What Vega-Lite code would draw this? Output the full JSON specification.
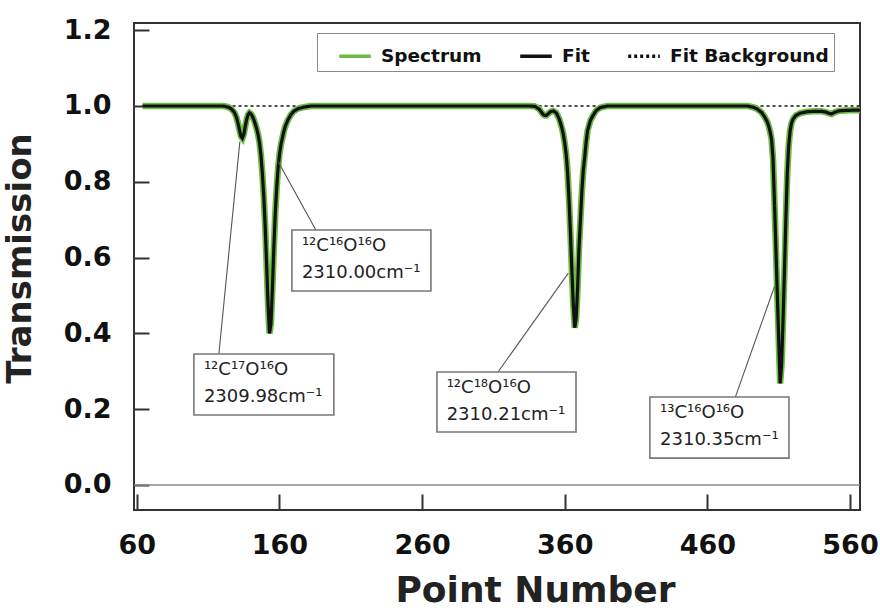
{
  "$schema": "https://vega.github.io/schema/vega-lite/v6.json",
  "width": 726,
  "height": 487,
  "autosize": {"type": "none"},
  "padding": {"left": 134, "top": 23, "right": 20, "bottom": 103},
  "background": "white",
  "config": {
    "view": {"stroke": "#333333", "strokeWidth": 2},
    "font": "DejaVu Sans",
    "axis": {
      "grid": false, "domain": false, "tickWidth": 2, "tickColor": "#333333",
      "labelFont": "DejaVu Sans", "labelFontWeight": "bold", "labelFontSize": 27, "labelColor": "#111111", "labelFlush": false,
      "titleFont": "DejaVu Sans", "titleFontWeight": "bold", "titleColor": "#222222"
    },
    "axisX": {"tickSize": -16, "labelPadding": 38, "titleFontSize": 36, "titlePadding": 15},
    "axisY": {"tickSize": -15, "labelPadding": 38, "titleFontSize": 34, "titlePadding": 26}
  },
  "datasets": {
    "curve": [
      {"x": 64, "y": 1.0}, {"x": 80, "y": 1.0}, {"x": 100, "y": 1.0}, {"x": 115, "y": 1.0}, {"x": 120, "y": 1.0},
      {"x": 122, "y": 0.999}, {"x": 124, "y": 0.997}, {"x": 126, "y": 0.993}, {"x": 128, "y": 0.985}, {"x": 129, "y": 0.978},
      {"x": 130, "y": 0.968}, {"x": 131, "y": 0.953}, {"x": 132, "y": 0.936}, {"x": 133, "y": 0.920}, {"x": 134, "y": 0.915},
      {"x": 135, "y": 0.925}, {"x": 136, "y": 0.946}, {"x": 137, "y": 0.965}, {"x": 138, "y": 0.977}, {"x": 139, "y": 0.982},
      {"x": 140, "y": 0.979}, {"x": 141, "y": 0.973}, {"x": 142, "y": 0.964}, {"x": 143, "y": 0.953}, {"x": 144, "y": 0.940},
      {"x": 145, "y": 0.925}, {"x": 146, "y": 0.903}, {"x": 147, "y": 0.870}, {"x": 148, "y": 0.822}, {"x": 149, "y": 0.760},
      {"x": 150, "y": 0.680}, {"x": 151, "y": 0.580}, {"x": 152, "y": 0.475}, {"x": 153, "y": 0.400}, {"x": 154, "y": 0.425},
      {"x": 155, "y": 0.515}, {"x": 156, "y": 0.622}, {"x": 157, "y": 0.713}, {"x": 158, "y": 0.782}, {"x": 159, "y": 0.835},
      {"x": 160, "y": 0.872}, {"x": 161, "y": 0.898}, {"x": 162, "y": 0.915}, {"x": 163, "y": 0.932}, {"x": 164, "y": 0.946},
      {"x": 166, "y": 0.964}, {"x": 168, "y": 0.977}, {"x": 170, "y": 0.986}, {"x": 173, "y": 0.993}, {"x": 177, "y": 0.997},
      {"x": 182, "y": 1.0}, {"x": 200, "y": 1.0}, {"x": 250, "y": 1.0}, {"x": 300, "y": 1.0}, {"x": 335, "y": 1.0},
      {"x": 339, "y": 0.999}, {"x": 342, "y": 0.992}, {"x": 344, "y": 0.982}, {"x": 345, "y": 0.977}, {"x": 346, "y": 0.975},
      {"x": 347, "y": 0.975}, {"x": 348, "y": 0.978}, {"x": 350, "y": 0.985}, {"x": 352, "y": 0.987}, {"x": 354, "y": 0.982},
      {"x": 356, "y": 0.967}, {"x": 357, "y": 0.955}, {"x": 358, "y": 0.942}, {"x": 359, "y": 0.925}, {"x": 360, "y": 0.902},
      {"x": 361, "y": 0.872}, {"x": 362, "y": 0.825}, {"x": 363, "y": 0.752}, {"x": 364, "y": 0.665}, {"x": 365, "y": 0.565},
      {"x": 366, "y": 0.475}, {"x": 367, "y": 0.415}, {"x": 368, "y": 0.440}, {"x": 369, "y": 0.520}, {"x": 370, "y": 0.625},
      {"x": 371, "y": 0.700}, {"x": 372, "y": 0.775}, {"x": 373, "y": 0.830}, {"x": 374, "y": 0.865}, {"x": 375, "y": 0.905},
      {"x": 376, "y": 0.935}, {"x": 378, "y": 0.962}, {"x": 380, "y": 0.976}, {"x": 382, "y": 0.988}, {"x": 385, "y": 0.996},
      {"x": 390, "y": 1.0}, {"x": 420, "y": 1.0}, {"x": 460, "y": 1.0}, {"x": 488, "y": 1.0},
      {"x": 492, "y": 0.997}, {"x": 495, "y": 0.992}, {"x": 498, "y": 0.983}, {"x": 500, "y": 0.972}, {"x": 502, "y": 0.958},
      {"x": 503, "y": 0.947}, {"x": 504, "y": 0.932}, {"x": 505, "y": 0.912}, {"x": 506, "y": 0.862}, {"x": 507, "y": 0.750},
      {"x": 508, "y": 0.630}, {"x": 509, "y": 0.505}, {"x": 510, "y": 0.385}, {"x": 511, "y": 0.268}, {"x": 512, "y": 0.315},
      {"x": 513, "y": 0.430}, {"x": 514, "y": 0.560}, {"x": 515, "y": 0.700}, {"x": 516, "y": 0.820}, {"x": 517, "y": 0.895},
      {"x": 518, "y": 0.935}, {"x": 519, "y": 0.955}, {"x": 520, "y": 0.965}, {"x": 522, "y": 0.975}, {"x": 525, "y": 0.981},
      {"x": 530, "y": 0.985}, {"x": 535, "y": 0.986}, {"x": 540, "y": 0.986}, {"x": 543, "y": 0.984}, {"x": 545, "y": 0.981},
      {"x": 547, "y": 0.979}, {"x": 549, "y": 0.983}, {"x": 552, "y": 0.987}, {"x": 556, "y": 0.988}, {"x": 562, "y": 0.989},
      {"x": 567, "y": 0.989}
    ],
    "background": [
      {"x": 64, "y": 1.0}, {"x": 567, "y": 1.0}
    ],
    "zero": [
      {"x": 58, "y": 0}, {"x": 567, "y": 0}
    ],
    "boxes": [
      {"x": 100.0, "x2": 198.1, "y": 0.3456, "y2": 0.1847},
      {"x": 168.7, "x2": 266.2, "y": 0.673, "y2": 0.512},
      {"x": 270.4, "x2": 367.9, "y": 0.298, "y2": 0.140},
      {"x": 419.7, "x2": 517.2, "y": 0.232, "y2": 0.071}
    ],
    "leaders": [
      {"x": 117.5, "y": 0.3456, "x2": 132.2, "y2": 0.906},
      {"x": 185.5, "y": 0.673, "x2": 159.1, "y2": 0.853},
      {"x": 313.2, "y": 0.298, "x2": 362.5, "y2": 0.559},
      {"x": 479.6, "y": 0.232, "x2": 507.0, "y2": 0.523}
    ],
    "labels": [
      {"x": 107.0, "y": 0.303, "label": "¹²C¹⁷O¹⁶O\n2309.98cm⁻¹"},
      {"x": 175.7, "y": 0.631, "label": "¹²C¹⁶O¹⁶O\n2310.00cm⁻¹"},
      {"x": 277.2, "y": 0.256, "label": "¹²C¹⁸O¹⁶O\n2310.21cm⁻¹"},
      {"x": 426.8, "y": 0.190, "label": "¹³C¹⁶O¹⁶O\n2310.35cm⁻¹"}
    ]
  },
  "layer": [
    {
      "data": {"name": "zero"},
      "mark": {"type": "line", "color": "#8c8c8c", "strokeWidth": 1.5},
      "encoding": {
        "x": {"field": "x", "type": "quantitative", "scale": {"domain": [58, 567], "nice": false, "zero": false},
              "axis": {"title": "Point Number", "values": [60, 160, 260, 360, 460, 560], "titleX": 401}},
        "y": {"field": "y", "type": "quantitative", "scale": {"domain": [-0.066, 1.219], "nice": false, "zero": false},
              "axis": {"title": "Transmission", "values": [0, 0.2, 0.4, 0.6, 0.8, 1.0, 1.2], "format": ".1f", "titleY": 235}}
      }
    },
    {
      "data": {"name": "background"},
      "mark": {"type": "line", "strokeWidth": 1.6},
      "encoding": {
        "x": {"field": "x", "type": "quantitative",
              "axis": {"title": "Point Number", "values": [60, 160, 260, 360, 460, 560], "titleX": 401}},
        "y": {"field": "y", "type": "quantitative",
              "axis": {"title": "Transmission", "values": [0, 0.2, 0.4, 0.6, 0.8, 1.0, 1.2], "format": ".1f", "titleY": 235}},
        "color": {"datum": "Fit Background", "type": "nominal"},
        "strokeDash": {"datum": "Fit Background", "type": "nominal"}
      }
    },
    {
      "data": {"name": "curve"},
      "mark": {"type": "line", "strokeWidth": 6.5},
      "encoding": {
        "x": {"field": "x", "type": "quantitative",
              "axis": {"title": "Point Number", "values": [60, 160, 260, 360, 460, 560], "titleX": 401}},
        "y": {"field": "y", "type": "quantitative",
              "axis": {"title": "Transmission", "values": [0, 0.2, 0.4, 0.6, 0.8, 1.0, 1.2], "format": ".1f", "titleY": 235}},
        "color": {
          "datum": "Spectrum", "type": "nominal",
          "scale": {"domain": ["Spectrum", "Fit", "Fit Background"], "range": ["#6dbb45", "#111111", "#111111"]},
          "legend": {
            "title": null, "orient": "none", "legendX": 183, "legendY": 10, "direction": "horizontal",
            "strokeColor": "#888888", "fillColor": "white", "padding": 5,
            "labelFont": "DejaVu Sans", "labelFontWeight": "bold", "labelFontSize": 18.5, "labelColor": "#111111",
            "symbolType": "stroke", "symbolSize": 1000, "symbolStrokeWidth": 3.5,
            "symbolOffset": 15, "labelOffset": 8, "columnPadding": 21
          }
        },
        "strokeDash": {
          "datum": "Spectrum", "type": "nominal",
          "scale": {"domain": ["Spectrum", "Fit", "Fit Background"], "range": [[1, 0], [1, 0], [3, 3]]},
          "legend": {
            "title": null, "orient": "none", "legendX": 183, "legendY": 10, "direction": "horizontal",
            "strokeColor": "#888888", "fillColor": "white", "padding": 5,
            "labelFont": "DejaVu Sans", "labelFontWeight": "bold", "labelFontSize": 18.5, "labelColor": "#111111",
            "symbolType": "stroke", "symbolSize": 1000, "symbolStrokeWidth": 3.5,
            "symbolOffset": 15, "labelOffset": 8, "columnPadding": 21
          }
        }
      }
    },
    {
      "data": {"name": "curve"},
      "mark": {"type": "line", "strokeWidth": 3.2},
      "encoding": {
        "x": {"field": "x", "type": "quantitative",
              "axis": {"title": "Point Number", "values": [60, 160, 260, 360, 460, 560], "titleX": 401}},
        "y": {"field": "y", "type": "quantitative",
              "axis": {"title": "Transmission", "values": [0, 0.2, 0.4, 0.6, 0.8, 1.0, 1.2], "format": ".1f", "titleY": 235}},
        "color": {"datum": "Fit", "type": "nominal"},
        "strokeDash": {"datum": "Fit", "type": "nominal"}
      }
    },
    {
      "data": {"name": "leaders"},
      "mark": {"type": "rule", "color": "#555555", "strokeWidth": 1.1},
      "encoding": {
        "x": {"field": "x", "type": "quantitative",
              "axis": {"title": "Point Number", "values": [60, 160, 260, 360, 460, 560], "titleX": 401}},
        "y": {"field": "y", "type": "quantitative",
              "axis": {"title": "Transmission", "values": [0, 0.2, 0.4, 0.6, 0.8, 1.0, 1.2], "format": ".1f", "titleY": 235}},
        "x2": {"field": "x2"},
        "y2": {"field": "y2"}
      }
    },
    {
      "data": {"name": "boxes"},
      "mark": {"type": "rect", "fill": "white", "stroke": "#777777", "strokeWidth": 1.6},
      "encoding": {
        "x": {"field": "x", "type": "quantitative",
              "axis": {"title": "Point Number", "values": [60, 160, 260, 360, 460, 560], "titleX": 401}},
        "y": {"field": "y", "type": "quantitative",
              "axis": {"title": "Transmission", "values": [0, 0.2, 0.4, 0.6, 0.8, 1.0, 1.2], "format": ".1f", "titleY": 235}},
        "x2": {"field": "x2"},
        "y2": {"field": "y2"}
      }
    },
    {
      "data": {"name": "labels"},
      "mark": {"type": "text", "align": "left", "baseline": "middle", "font": "DejaVu Sans", "fontSize": 18, "lineHeight": 27, "lineBreak": "\n", "color": "#222222"},
      "encoding": {
        "x": {"field": "x", "type": "quantitative",
              "axis": {"title": "Point Number", "values": [60, 160, 260, 360, 460, 560], "titleX": 401}},
        "y": {"field": "y", "type": "quantitative",
              "axis": {"title": "Transmission", "values": [0, 0.2, 0.4, 0.6, 0.8, 1.0, 1.2], "format": ".1f", "titleY": 235}},
        "text": {"field": "label"}
      }
    }
  ]
}
